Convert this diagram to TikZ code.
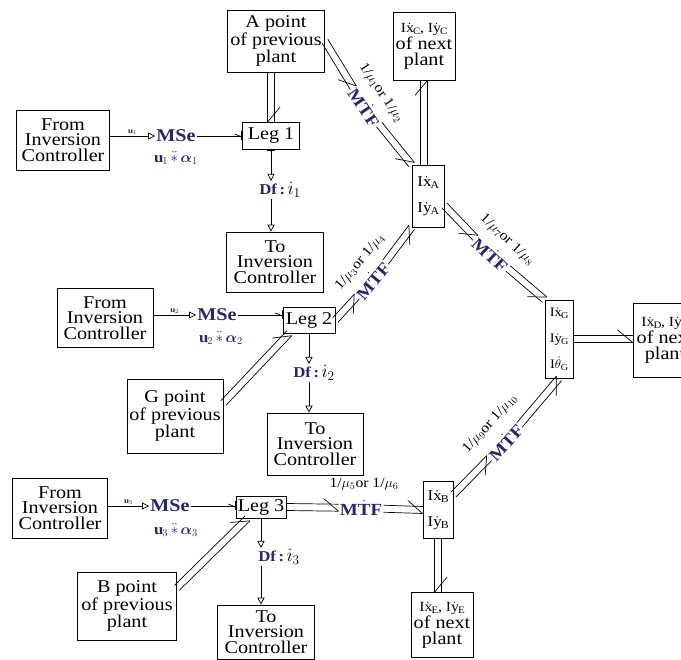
\RequirePackage{fix-cm}
\documentclass[tikz,border=0pt]{standalone}
\usepackage{amsmath}
\usepackage{fontspec}
\setmainfont{Liberation Serif}[FakeStretch=1.12]
\usetikzlibrary{arrows.meta,calc}
\definecolor{navy}{RGB}{38,38,105}
\newcommand{\Idx}[2]{I$\dot{\mathrm{#1}}_{\mathrm{#2}}$}
\newcommand{\Dfi}[1]{Df\,:\,\textcolor{black}{\fontsize{19}{19}\selectfont$\dot{\imath}_{#1}$}}
% multibond: from, to, side of the half arrow
\newcommand{\vbond}[3]{%
  \path (#1) -- (#2) coordinate[pos=0] (vs) coordinate[pos=1] (ve);
  \draw ($(vs)!3.5pt!90:(ve)$) -- ($(ve)!3.5pt!-90:(vs)$);
  \draw ($(vs)!3.5pt!-90:(ve)$) -- ($(ve)!3.5pt!90:(vs)$);
  \draw ($(ve)!15pt!(vs)!9pt!#3:(ve)$) -- ($(ve)!3.5pt!#3:(vs)$);
}

\begin{document}
\begin{tikzpicture}[x=1pt,y=-1pt,line width=0.7pt,
  blk/.style={draw, align=center, inner sep=1pt, font=\fontsize{18}{15.5}\selectfont},
  ine/.style={draw, align=center, inner sep=1pt, font=\fontsize{15}{26}\selectfont},
  src/.style={font=\fontsize{18}{19}\selectfont\bfseries, text=navy, inner sep=1pt},
  det/.style={src, font=\fontsize{15}{16}\selectfont\bfseries},
  modl/.style={font=\fontsize{15}{16}\selectfont\bfseries, text=navy, inner sep=0pt},
  ulab/.style={font=\fontsize{8}{9}\selectfont, text=navy, inner sep=1pt},
  mulab/.style={font=\fontsize{14}{15}\selectfont, inner sep=0pt},
  mtf/.style={src, font=\fontsize{17}{18}\selectfont\bfseries},
  sig/.style={-{Triangle[open,length=7pt,width=7pt]}},
  eff/.style={-{Straight Barb[left,length=5pt,width=4pt]Bar[width=9pt]}},
  flo/.style={{Bar[width=8pt]}-{Triangle[open,length=7pt,width=7pt]}}]
\useasboundingbox (0,0) rectangle (681,660);
\clip (0,0) rectangle (681,660);

% boxes
\node[blk, minimum width=93, minimum height=60] (from1) at (63,140) {From\\Inversion\\Controller};
\node[blk, minimum width=96, minimum height=59] (from2) at (105,318) {From\\Inversion\\Controller};
\node[blk, minimum width=95, minimum height=60] (from3) at (60,508) {From\\Inversion\\Controller};
\node[blk, minimum width=97, minimum height=62] (Apt) at (276,41) {A point\\of previous\\plant};
\node[blk, minimum width=96, minimum height=74] (Gpt) at (175,416) {G point\\of previous\\plant};
\node[blk, minimum width=99, minimum height=68] (Bpt) at (127,606) {B point\\of previous\\plant};
\node[blk, minimum width=57, minimum height=27] (leg1) at (271,136) {Leg 1};
\node[blk, minimum width=52, minimum height=26] (leg2) at (309,320) {Leg 2};
\node[blk, minimum width=50, minimum height=22] (leg3) at (261,507) {Leg 3};
\node[blk, minimum width=97, minimum height=60] (to1) at (275,262) {To\\Inversion\\Controller};
\node[blk, minimum width=96, minimum height=62] (to2) at (315,444) {To\\Inversion\\Controller};
\node[blk, minimum width=97, minimum height=54] (to3) at (266,632) {To\\Inversion\\Controller};

% inertias
\node[ine, minimum width=32, minimum height=62] (Abox) at (428,196) {\Idx{x}{A}\\\Idx{y}{A}};
\node[ine, minimum width=28, minimum height=78, font=\fontsize{13}{26}\selectfont] (Gbox) at (559,339) {\Idx{x}{G}\\\Idx{y}{G}\\I$\dot{\theta}_\mathrm{G}$};
\node[ine, minimum width=30, minimum height=57] (Bbox) at (438,510) {\Idx{x}{B}\\\Idx{y}{B}};
\node[blk, minimum width=62, minimum height=68] (Cnx) at (424,46) {{\fontsize{14}{14}\selectfont\Idx{x}{C}, \Idx{y}{C}}\\of next\\plant};
\node[blk, minimum width=64, minimum height=74] (Dnx) at (665,340) {{\fontsize{14}{14}\selectfont\Idx{x}{D}, \Idx{y}{D}}\\of next\\plant};
\node[blk, minimum width=62, minimum height=65] (Enx) at (442,625) {{\fontsize{14}{14}\selectfont\Idx{x}{E}, \Idx{y}{E}}\\of next\\plant};

% sources and detectors
\node[src] (mse1) at (176,136) {MSe};
\node[modl] (mod1) at (176,158) {$\mathbf{u}_1\,\ddot{\ast}\,\boldsymbol{\alpha}_1$};
\node[src] (mse2) at (217,315) {MSe};
\node[modl] (mod2) at (221,338) {$\mathbf{u}_2\,\ddot{\ast}\,\boldsymbol{\alpha}_2$};
\node[src] (mse3) at (170,506) {MSe};
\node[modl] (mod3) at (176,530) {$\mathbf{u}_3\,\ddot{\ast}\,\boldsymbol{\alpha}_3$};
\node[det] (df1) at (280,190) {\Dfi{1}};
\node[det] (df2) at (314,373) {\Dfi{2}};
\node[det] (df3) at (279,557) {\Dfi{3}};

% transformers
\node[mtf, rotate=-56] (mtf12) at (365,107) {M$\dot{\mbox{T}}$F};
\node[mulab, rotate=-56] (lab12) at (381,93) {1/$\mu_1$or 1/$\mu_2$};
\node[mtf, rotate=50] (mtf34) at (372,280) {M$\dot{\mbox{T}}$F};
\node[mulab, rotate=50] (lab34) at (360,262) {1/$\mu_3$or 1/$\mu_4$};
\node[mtf, rotate=-43] (mtf78) at (491,254) {M$\dot{\mbox{T}}$F};
\node[mulab, rotate=-43] (lab78) at (507,240) {1/$\mu_7$or 1/$\mu_8$};
\node[mtf] (mtf56) at (361,508) {M$\dot{\mbox{T}}$F};
\node[mulab] (lab56) at (364,484) {1/$\mu_5$or 1/$\mu_6$};
\node[mtf, rotate=48] (mtf910) at (505,442) {M$\dot{\mbox{T}}$F};
\node[mulab, rotate=48] (lab910) at (490,424) {1/$\mu_9$or 1/$\mu_{10}$};

% leg inputs and outputs
\draw[sig] (from1.east |- mse1.west) -- node[above, ulab] {$\mathbf{u}_1$} (mse1.west);
\draw[eff] (mse1.east) -- (leg1.west |- mse1.east);
\draw[flo] (leg1.south) -- (leg1.south |- df1.north);
\draw[sig] (leg1.south |- df1.south) -- (leg1.south |- to1.north);
\draw[sig] (from2.east |- mse2.west) -- node[above, ulab] {$\mathbf{u}_2$} (mse2.west);
\draw[eff] (mse2.east) -- (leg2.west |- mse2.east);
\draw[flo] (leg2.south) -- (leg2.south |- df2.north);
\draw[sig] (leg2.south |- df2.south) -- (leg2.south |- to2.north);
\draw[sig] (from3.east |- mse3.west) -- node[above, ulab] {$\mathbf{u}_3$} (mse3.west);
\draw[eff] (mse3.east) -- (leg3.west |- mse3.east);
\draw[flo] (leg3.south) -- (leg3.south |- df3.north);
\draw[sig] (leg3.south |- df3.south) -- (leg3.south |- to3.north);

% multibonds
\vbond{leg1.north |- Apt.south}{leg1.north}{90}
\vbond{Apt.east}{mtf12}{-90}
\vbond{mtf12}{Abox.north west}{-90}
\vbond{Cnx.south |- Abox.north}{Cnx.south}{90}
\vbond{Gpt.15}{leg2.-146}{90}
\vbond{leg2.east}{mtf34}{-90}
\vbond{mtf34}{Abox.south west}{-90}
\vbond{Abox.-30}{mtf78}{-90}
\vbond{mtf78}{Gbox.north west}{-90}
\vbond{Bpt.20}{leg3.-140}{90}
\vbond{leg3.east}{mtf56}{90}
\vbond{mtf56}{Bbox.west}{90}
\vbond{Bbox.45}{mtf910}{-90}
\vbond{mtf910}{Gbox.south}{-90}
\vbond{Bbox.south}{Bbox.south |- Enx.north}{90}
\vbond{Gbox.east}{Gbox.east -| Dnx.west}{90}
\end{tikzpicture}
\end{document}
